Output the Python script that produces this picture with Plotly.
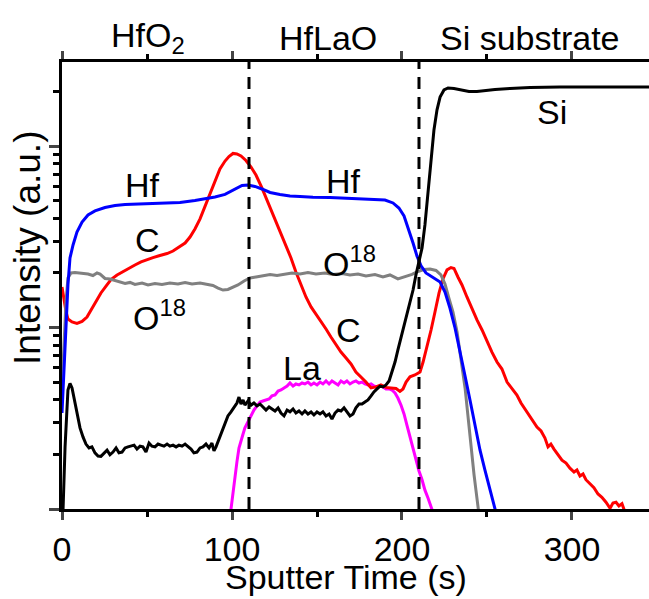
import plotly.graph_objects as go

# SIMS depth profile of an HfO2 / HfLaO stack on Si (log intensity vs sputter time)

hf_time = [0, 1.2, 2.4, 3.5, 4.7, 6.5, 8.8, 11.8, 15.3, 19.4, 25.3, 31.2, 37.1, 44.7, 51.8, 60.6,
           69.4, 78.2, 84.1, 90, 95.9, 101.8, 105.9, 109.4, 113.5, 117.6, 122.4, 128.2, 134.1, 140,
           147.6, 157.6, 167.6, 175.3, 182.9, 190, 194.7, 198.2, 201.2, 204.1, 206.5, 208.8, 211.2,
           214.1, 218.2, 222.4, 225.3, 228.2, 231.2, 234.1, 237.1, 240, 242.9, 245.9, 248.8, 251.8, 254.7, 256]
hf_counts = [338, 584, 1102, 1718, 2420, 2853, 3365, 3820, 4178, 4395, 4592, 4710, 4775, 4800, 4830, 4864,
             4895, 5020, 5115, 5248, 5420, 5808, 6070, 6110, 5998, 5808, 5559, 5420, 5309, 5284,
             5224, 5212, 5164, 5152, 5082, 5047, 4864, 4560, 4121, 3451, 2924, 2483, 2188,
             2000, 1888, 1783, 1571, 1282, 995, 753, 541, 399, 287, 211, 164, 127, 100, 90]

o18_time = [0, 1.2, 2.4, 3.5, 5.3, 7.6, 11.8, 15.3, 18.2, 20.6, 22.4, 25.3, 28.2, 31.2, 34.1, 37.1, 40,
            42.9, 47.1, 50.6, 54.7, 58.8, 63.5, 68.2, 72.4, 76.5, 81.2, 85.3, 88.8, 91.8, 94.7, 97.6,
            100.6, 103.5, 107.1, 110.6, 114.1, 118.2, 122.4, 126.5, 131.2, 135.3, 140, 144.7, 149.4,
            154.7, 159.4, 164.7, 169.4, 174.1, 178.8, 184.1, 188.8, 192.9, 197.6, 201.8, 205.9, 209.4,
            212.9, 216.5, 220, 222.9, 225.3, 227.6, 230, 232.4, 234.7, 237.1, 238.8, 240.6, 242.4,
            243.5, 244.7, 245.5]
o18_counts = [465, 854, 1419, 1877, 2000, 2013, 1988, 1973, 1936, 2000, 1973, 1866, 1854, 1820, 1783, 1750, 1774,
              1729, 1762, 1718, 1750, 1729, 1762, 1738, 1774, 1738, 1762, 1738, 1706, 1652, 1611, 1622,
              1675, 1718, 1807, 1877, 1901, 1923, 1963, 1936, 1973, 2000, 1973, 2013, 1973,
              2000, 1963, 1988, 1950, 1973, 1923, 1963, 1901, 1950, 1854, 1901, 1963, 2039,
              2090, 2104, 2065, 1950, 1738, 1455, 1219, 946, 663, 465, 326, 217, 154,
              127, 100, 90]

c_time = [0, 1.2, 2.4, 3.5, 5.9, 8.8, 11.8, 14.7, 17.1, 20, 22.9, 25.9, 28.8, 32.4, 35.9, 39.4, 42.9,
          46.5, 50, 53.5, 57.6, 61.8, 65.3, 68.8, 72.4, 75.3, 78.2, 81.2, 84.1, 87.1, 90, 92.9, 95.9,
          98.2, 100.6, 102.9, 105.3, 108.2, 111.2, 114.1, 117.6, 121.2, 124.7, 128.2, 131.8, 134.7,
          137.6, 140.6, 143.5, 146.5, 149.4, 152.4, 155.3, 158.2, 161.2, 164.1, 167.1, 170, 172.9,
          175.9, 178.8, 181.8, 184.7, 187.6, 190.6, 193.5, 196.5, 198.8, 200.6, 202.4, 204.7, 207.6,
          210.6, 212.4, 214.7, 217.1, 219.4, 221.8, 224.1, 226.5, 228.8, 230.6, 232.9, 235.3, 238.2,
          241.2, 244.1, 247.1, 250, 252.9, 255.9, 258.8, 261.8, 264.7, 267.6, 270, 272.4, 274.7,
          277.1, 279.4, 281.8, 284.1, 285.9, 287.6, 289.4, 291.8, 294.1, 296.5, 298.8, 301.2, 302.9,
          304.7, 306.5, 308.2, 310.6, 312.9, 315.3, 317.6, 320, 322.4, 324.1, 325.9, 327.6, 329.4, 331.2]
c_counts = [1675, 1419, 1219, 1115, 1074, 1054, 1081, 1143, 1250, 1384, 1552, 1694, 1841, 1950, 2039, 2118, 2213,
            2301, 2372, 2432, 2495, 2559, 2642, 2767, 2924, 3155, 3499, 3972, 4624, 5445, 6427, 7482, 8279,
            8770, 9120, 9057, 8831, 8337, 7674, 6934, 5888, 4864, 4018, 3365, 2780, 2420,
            2023, 1718, 1475, 1300, 1189, 1074, 982, 887, 802, 733, 679, 630, 569,
            535, 501, 465, 471, 483, 468, 465, 462, 445, 459, 501, 535, 548,
            569, 646, 782, 970, 1219, 1552, 1854, 2080, 2143, 2118, 1901, 1718, 1475,
            1268, 1102, 970, 833, 733, 646, 591, 501, 459, 425, 384, 356, 326,
            302, 283, 269, 246, 220, 228, 214, 199, 186, 179, 168, 160, 164,
            152, 156, 145, 137, 131, 121, 116, 109, 101, 108, 109, 104, 107, 96]

si_time = [0.3, 1.8, 3.5, 4.7, 5.9, 7.1, 8.8, 10.6, 12.4, 14.1, 15.9, 17.6, 19.4, 21.2, 22.9, 24.7, 26.5,
           28.2, 30, 31.8, 33.5, 35.3, 37.1, 38.8, 40.6, 42.4, 44.1, 45.9, 47.6, 49.4, 51.2, 52.9, 54.7,
           56.5, 58.2, 60, 61.8, 63.5, 65.3, 67.1, 68.8, 70.6, 72.4, 74.1, 75.9, 77.6, 79.4, 81.2, 82.9,
           84.7, 86.5, 88.2, 89.4, 90.6, 92.4, 94.1, 95.9, 97.6, 99.4, 101.2, 102.9, 104.1, 105.3, 106.5,
           107.6, 109.4, 111.2, 112.9, 114.7, 116.5, 118.2, 120, 121.8, 123.5, 125.3, 127.1, 128.8, 130.6,
           132.4, 134.1, 135.9, 137.6, 139.4, 141.2, 142.9, 144.7, 146.5, 148.2, 150, 151.8, 153.5, 155.3,
           157.1, 158.8, 160.6, 162.4, 164.1, 165.9, 167.6, 169.4, 171.2, 172.9, 174.7, 176.5, 178.2, 180,
           181.8, 183.5, 185.3, 187.1, 188.8, 190.6, 192.4, 194.1, 195.9, 197.6, 199.4, 201.2, 202.9,
           204.7, 206.5, 208.2, 210, 211.8, 213.5, 215.3, 217.1, 218.8, 220.6, 222.4, 224.7, 227.1,
           230.6, 234.7, 239.4, 244.1, 248.8, 254.7, 263.5, 275.3, 292.9, 316.5, 345.3]
si_counts = [80, 220, 453, 492, 465, 409, 334, 280, 249, 228, 217, 220, 204, 196, 195, 204, 211,
             199, 206, 217, 204, 206, 217, 220, 222, 225, 214, 222, 220, 206, 231, 222, 220,
             228, 225, 222, 228, 222, 225, 220, 225, 222, 228, 222, 214, 204, 206, 217, 220,
             228, 217, 231, 209, 220, 243, 273, 302, 326, 343, 361, 384, 414, 379, 399,
             374, 394, 374, 384, 370, 379, 365, 351, 365, 356, 347, 361, 338, 326,
             351, 343, 356, 338, 347, 334, 347, 334, 343, 330, 343, 334, 343, 326,
             334, 313, 338, 351, 347, 361, 343, 326, 334, 361, 379, 379, 389, 399,
             420, 442, 459, 476, 471, 483, 508, 569, 646, 753, 877, 1033, 1203,
             1384, 1611, 1950, 2301, 2748, 3681, 5383, 8395, 12280, 15850, 18660, 20420, 20940,
             20800, 20420, 20040, 20040, 20280, 20560, 20800, 21080, 21190, 21190, 21190]

la_time = [98.8, 100.6, 101.8, 102.9, 104.1, 105.3, 106.5, 107.6, 109.4, 111.2, 112.9, 114.7, 116.5, 118.2,
           120, 121.8, 123.5, 125.3, 127.1, 128.8, 130.6, 132.4, 134.1, 135.9, 137.6, 139.4, 141.2, 142.9,
           144.7, 146.5, 148.2, 150, 151.8, 153.5, 155.3, 157.1, 158.8, 160.6, 162.4, 164.1, 165.9, 167.6,
           169.4, 171.2, 172.9, 174.7, 176.5, 178.2, 180, 181.8, 183.5, 185.3, 187.1, 188.8, 190.6, 192.4,
           194.1, 195.9, 197.6, 199.4, 201.2, 202.9, 204.7, 206.5, 208.2, 210, 211.8, 213.5, 215.3, 217.1, 218.2]
la_counts = [90, 127, 154, 182, 217, 240, 259, 280, 302, 326, 351, 370, 389, 394,
             399, 404, 420, 425, 447, 453, 465, 476, 495, 476, 489, 483, 495, 489,
             501, 483, 495, 483, 501, 489, 508, 489, 508, 495, 483, 508, 495, 508,
             489, 501, 508, 495, 501, 489, 483, 489, 476, 471, 476, 471, 459, 459,
             453, 436, 409, 374, 334, 290, 249, 211, 184, 162, 145, 127, 115, 103, 96]

FONT = "Liberation Sans, Arial, sans-serif"
FS = 34
LW = 3

fig = go.Figure()
series = [
    (la_time, la_counts, "La", "#ff00ff"),
    (c_time, c_counts, "C", "#ff0000"),
    (o18_time, o18_counts, "O18", "#808080"),
    (hf_time, hf_counts, "Hf", "#0000ff"),
    (si_time, si_counts, "Si", "#000000"),
]
for t, c, name, col in series:
    fig.add_trace(go.Scatter(x=t, y=c, mode="lines", name=name,
                             line=dict(color=col, width=LW), showlegend=False))

# Layer boundaries
for xb in (110, 210):
    fig.add_shape(type="line", xref="x", yref="paper", x0=xb, x1=xb, y0=0, y1=1,
                  line=dict(color="black", width=3, dash="12px,8px"))

# Curve labels inside the plot (y given as log10 of intensity)
curve_labels = [
    (47.6, 3.786, "Hf"), (165.3, 3.808, "Hf"),
    (50, 3.483, "C"), (168.8, 2.987, "C"),
    (57.6, 3.069, "O<sup>18</sup>"), (169.4, 3.362, "O<sup>18</sup>"),
    (141.2, 2.777, "La"), (288.2, 4.189, "Si"),
]
for x, y, txt in curve_labels:
    fig.add_annotation(x=x, y=y, xref="x", yref="y", text=txt, showarrow=False,
                       xanchor="center", yanchor="middle",
                       font=dict(family=FONT, size=FS, color="black"))

# Layer names above the plot
layer_labels = [(0.1465, "HfO<sub>2</sub>"), (0.453, "HfLaO"), (0.797, "Si substrate")]
for x, txt in layer_labels:
    fig.add_annotation(x=x, y=1.054, xref="paper", yref="paper", text=txt, showarrow=False,
                       xanchor="center", yanchor="middle",
                       font=dict(family=FONT, size=FS, color="black"))

fig.add_annotation(x=-0.0579, y=0.584, xref="paper", yref="paper", text="Intensity (a.u.)",
                   textangle=-90, showarrow=False, xanchor="center", yanchor="middle",
                   font=dict(family=FONT, size=37, color="black"))
fig.add_annotation(x=0.4838, y=-0.153, xref="paper", yref="paper", text="Sputter Time (s)",
                   showarrow=False, xanchor="center", yanchor="middle",
                   font=dict(family=FONT, size=FS, color="black"))

fig.update_layout(
    width=649, height=599,
    margin=dict(l=62, r=0, t=62, b=90),
    paper_bgcolor="white", plot_bgcolor="white",
    font=dict(family=FONT, size=FS, color="black"),
)
fig.update_xaxes(
    range=[0, 345.3], tickvals=[0, 100, 200, 300], ticks="outside", ticklen=8, tickwidth=3,
    showline=True, linewidth=3, linecolor="black", mirror="ticks", showgrid=False, zeroline=False,
    tickfont=dict(family=FONT, size=FS),
    minor=dict(tickvals=[50, 150, 250], ticks="outside", ticklen=5, tickwidth=3, tickcolor="black"),
)
fig.update_yaxes(
    type="log", range=[2, 4.464], tickvals=[100, 1000, 10000], ticks="outside", ticklen=10, tickwidth=3,
    showticklabels=False, showline=True, linewidth=3, linecolor="black", showgrid=False, zeroline=False,
    minor=dict(tickvals=[200, 300, 400, 500, 600, 700, 800, 900,
                         2000, 3000, 4000, 5000, 6000, 7000, 8000, 9000, 20000],
               ticks="outside", ticklen=6, tickwidth=3, tickcolor="black"),
)

fig.write_html("out.html")
